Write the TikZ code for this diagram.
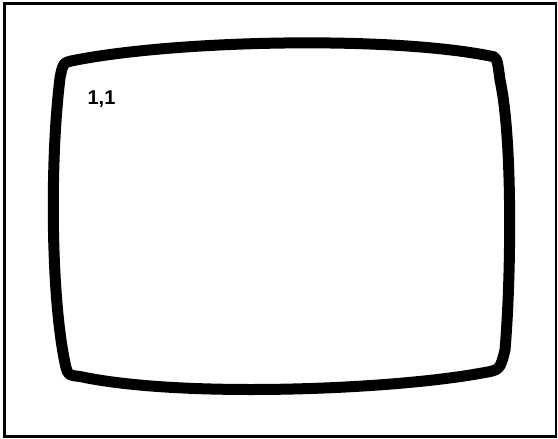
\documentclass[tikz,border=0pt]{standalone}
\usepackage{fontspec}
\newfontfamily\lblfont{Liberation Sans}
\begin{document}
\begin{tikzpicture}[
  x=1pt, y=-1pt,
  frame/.style={draw=black, line width=2.2pt},
  screen/.style={draw=black, line width=11pt, line join=round},
  lbl/.style={font=\lblfont\bfseries\fontsize{20}{24}\selectfont, inner sep=0pt},
]
  % Page
  \useasboundingbox (0,0) rectangle (558,439);
  \draw[frame] (4.5,3.5) rectangle (556,436.5);

  % Screen outline
  \draw[screen] (76,60) .. controls (180,40) and (390,36) .. (490,56)
    .. controls (497,57) .. (500,80)
    .. controls (513,140) and (511,280) .. (505,350)
    .. controls (500,370) .. (482,373)
    .. controls (390,390) and (180,398) .. (80,376.5)
    .. controls (67.3,375.2) .. (64,358)
    .. controls (51,290) and (50,160) .. (60,78)
    .. controls (63,62.5) .. cycle;

  % Cell label
  \node[lbl, anchor=base] (home) at (101.5,104) {1,1};
\end{tikzpicture}
\end{document}
